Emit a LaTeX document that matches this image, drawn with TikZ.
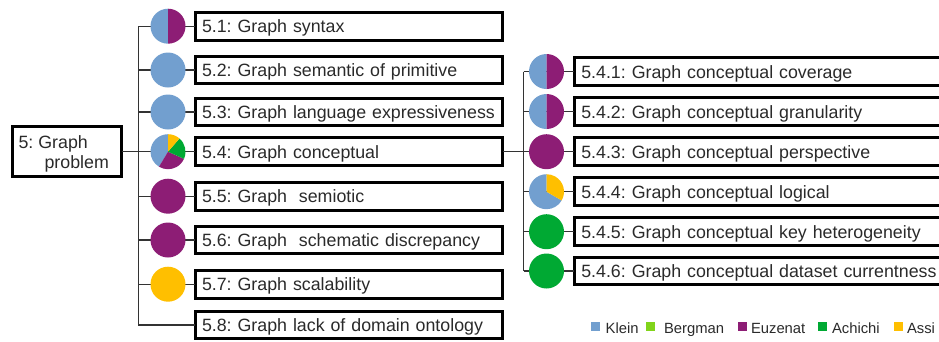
\documentclass[tikz,border=0pt]{standalone}
\usepackage{fontspec}
\setmainfont{Liberation Sans}
\frenchspacing
\hyphenpenalty=10000
\definecolor{klein}{HTML}{729FCF}
\definecolor{bergman}{HTML}{81D41A}
\definecolor{euzenat}{HTML}{8D1D75}
\definecolor{achichi}{HTML}{00A933}
\definecolor{assi}{HTML}{FFBF00}
\definecolor{txtc}{HTML}{2A2A2A}
\definecolor{linec}{HTML}{333333}
\newcommand\pieslice[4]{\fill[#4] (#1) -- ++(#2:17.5pt) arc[start angle=#2, end angle=#3, radius=17.5pt] -- cycle;}
\begin{document}
\frenchspacing
\hyphenpenalty=10000
\begin{tikzpicture}[x=1pt,y=-1pt,
  lbox/.style={draw=black, line width=3pt, rectangle, outer sep=0pt, minimum width=307.7pt, minimum height=27.7pt, inner xsep=7pt, inner ysep=0pt, text width=293.7pt, align=left, text height=16pt, text depth=2.5pt, font=\fontsize{17.8}{20}\selectfont, text=txtc, anchor=west},
  rbox/.style={lbox, minimum width=380pt, text width=366pt},
  dot/.style={circle, minimum size=35pt, inner sep=0pt, outer sep=0pt},
  conn/.style={draw=linec, line width=1.3pt},
  roottxt/.style={font=\fontsize{17.8}{20}\selectfont, text=txtc, inner sep=0pt, anchor=base west},
  legsq/.style={rectangle, minimum size=9pt, inner sep=0pt},
  legtxt/.style={font=\fontsize{14.8}{16}\selectfont, text=txtc, inner sep=0pt, anchor=base west}]
\useasboundingbox (0,0) rectangle (939,341);
\clip (0,0) rectangle (939,341);

% root
\node[draw=black, line width=3pt, rectangle, outer sep=0pt, minimum width=109pt, minimum height=50pt, inner sep=0pt] (root) at (67.2,151.7) {};
\node[roottxt] (rootA) at (18.4,148) {5: Graph};
\node[roottxt] (rootB) at (44.4,168) {problem};

% left trunk coordinates
\coordinate (t1) at (138.2,26.2);
\coordinate (t2) at (138.2,70);
\coordinate (t3) at (138.2,112);
\coordinate (t4) at (138.2,151.7);
\coordinate (t5) at (138.2,196.2);
\coordinate (t6) at (138.2,240);
\coordinate (t7) at (138.2,284.2);
\coordinate (t8) at (138.2,325);

% left boxes
\node[lbox] (b1) at (195,26.2) {5.1: Graph syntax};
\node[lbox] (b2) at (195,70) {5.2: Graph semantic of primitive};
\node[lbox] (b3) at (195,112) {5.3: Graph language expressiveness};
\node[lbox] (b4) at (195,151.7) {5.4: Graph conceptual};
\node[lbox] (b5) at (195,196.2) {5.5: Graph~~semiotic};
\node[lbox] (b6) at (195,240) {5.6: Graph~~schematic discrepancy};
\node[lbox] (b7) at (195,284.2) {5.7: Graph scalability};
\node[lbox] (b8) at (195,325) {5.8: Graph lack of domain ontology};

% right trunk coordinates
\coordinate (s0) at (523.5,151.7);
\coordinate (s1) at (523.5,71.5);
\coordinate (s2) at (523.5,111.5);
\coordinate (s3) at (523.5,151.7);
\coordinate (s4) at (523.5,191.7);
\coordinate (s5) at (523.5,231.7);
\coordinate (s6) at (523.5,271);

% right boxes
\node[rbox] (r1) at (574.3,71.5) {5.4.1: Graph conceptual coverage};
\node[rbox] (r2) at (574.3,111.5) {5.4.2: Graph conceptual granularity};
\node[rbox] (r3) at (574.3,151.7) {5.4.3: Graph conceptual perspective};
\node[rbox] (r4) at (574.3,191.7) {5.4.4: Graph conceptual logical};
\node[rbox] (r5) at (574.3,231.7) {5.4.5: Graph conceptual key heterogeneity};
\node[rbox] (r6) at (574.3,271) {5.4.6: Graph conceptual dataset currentness};

% connectors
\draw[conn] (root.east) -- (t4);
\draw[conn] (t1) -- (t8);
\foreach \i in {1,...,8} {\draw[conn] (t\i) -- (b\i.west);}
\draw[conn] (b4.east) -- (s0);
\draw[conn] (s1) -- (s6);
\foreach \i in {1,...,6} {\draw[conn] (s\i) -- (r\i.west);}

% left circles
\node[dot] (c1) at (168,26.2) {};
\pieslice{c1.center}{90}{270}{klein}
\pieslice{c1.center}{270}{450}{euzenat}
\node[dot, fill=klein] (c2) at (168,70) {};
\node[dot, fill=klein] (c3) at (168,112) {};
\node[dot] (c4) at (168,151.7) {};
\pieslice{c4.center}{90}{239}{klein}
\pieslice{c4.center}{239}{336}{euzenat}
\pieslice{c4.center}{336}{409}{achichi}
\pieslice{c4.center}{409}{450}{assi}
\node[dot, fill=euzenat] (c5) at (168,196.2) {};
\node[dot, fill=euzenat] (c6) at (168,240) {};
\node[dot, fill=assi] (c7) at (168,284.2) {};

% right circles
\node[dot] (d1) at (546.5,71.5) {};
\pieslice{d1.center}{90}{270}{klein}
\pieslice{d1.center}{270}{450}{euzenat}
\node[dot] (d2) at (546.5,111.5) {};
\pieslice{d2.center}{90}{270}{klein}
\pieslice{d2.center}{270}{450}{euzenat}
\node[dot, fill=euzenat] (d3) at (546.5,151.7) {};
\node[dot] (d4) at (546.5,191.7) {};
\pieslice{d4.center}{90}{330}{klein}
\pieslice{d4.center}{330}{450}{assi}
\node[dot, fill=achichi] (d5) at (546.5,231.7) {};
\node[dot, fill=achichi] (d6) at (546.5,271) {};

% legend
\node[legsq, fill=klein] (lq1) at (595.5,326.8) {};
\node[legtxt] (lt1) at (605.5,333) {Klein};
\node[legsq, fill=bergman] (lq2) at (650.3,326.8) {};
\node[legtxt] (lt2) at (663.8,333) {Bergman};
\node[legsq, fill=euzenat] (lq3) at (742.5,326.8) {};
\node[legtxt] (lt3) at (750.8,333) {Euzenat};
\node[legsq, fill=achichi] (lq4) at (822.5,326.8) {};
\node[legtxt] (lt4) at (831.8,333) {Achichi};
\node[legsq, fill=assi] (lq5) at (898.5,326.8) {};
\node[legtxt] (lt5) at (906.8,333) {Assi};
\end{tikzpicture}
\end{document}
